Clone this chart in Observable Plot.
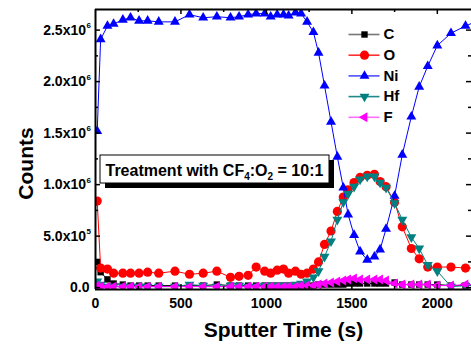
<!DOCTYPE html>
<html><head><meta charset="utf-8">
<script src="https://cdn.jsdelivr.net/npm/d3@7"></script>
<script src="https://cdn.jsdelivr.net/npm/@observablehq/plot@0.6"></script>
<style>html,body{margin:0;padding:0;background:#fff;overflow:hidden}</style>
</head><body><div id="chart"></div>
<script>
// ---- data ----
const time = [10,30,70,106,160,205,255,305,370,465,550,630,710,790,840,893,940,990,1025,1063,1100,1130,1170,1203,1238,1275,1305,1340,1378,1415,1450,1478,1513,1548,1590,1632,1665,1700,1750,1795,1848,1894,1944,2000,2080,2165,2250];
const C  = [0.25e6,0.15e6,0.08e6,0.04e6,0.03e6,0.02e6,0.02e6,0.02e6,0.02e6, 0.02e6,0.02e6,0.02e6,0.03e6,0.02e6, 0.02e6,0.02e6,0.02e6,0.02e6,0.02e6, 0.02e6,0.02e6,0.02e6,0.02e6,0.02e6, 0.02e6,0.02e6,0.03e6,0.03e6,0.03e6, 0.03e6,0.03e6,0.04e6,0.04e6,0.04e6, 0.04e6,0.04e6,0.04e6,0.04e6,0.05e6, 0.03e6,0.03e6,0.03e6,0.03e6,0.03e6, 0.02e6,0.02e6,0.02e6];
const O  = [0.84e6,0.19e6,0.18e6,0.14e6,0.14e6,0.14e6,0.14e6,0.15e6,0.14e6, 0.16e6,0.13e6,0.14e6,0.16e6,0.10e6, 0.11e6,0.12e6,0.20e6,0.16e6,0.14e6, 0.17e6,0.18e6,0.14e6,0.16e6,0.13e6, 0.14e6,0.18e6,0.25e6,0.42e6,0.55e6, 0.74e6,0.88e6,0.95e6,1.02e6,1.07e6, 1.09e6,1.10e6,1.03e6,0.98e6,0.83e6, 0.59e6,0.38e6,0.28e6,0.20e6,0.20e6, 0.20e6,0.19e6,0.19e6];
const Ni = [1.52e6,2.41e6,2.54e6,2.56e6,2.60e6,2.62e6,2.59e6,2.59e6,2.58e6, 2.58e6,2.65e6,2.62e6,2.63e6,2.62e6, 2.63e6,2.65e6,2.66e6,2.66e6,2.63e6, 2.65e6,2.65e6,2.64e6,2.67e6,2.66e6, 2.58e6,2.48e6,2.28e6,1.96e6,1.61e6, 1.27e6,0.97e6,0.71e6,0.51e6,0.35e6, 0.27e6,0.30e6,0.37e6,0.57e6,0.89e6, 1.29e6,1.66e6,1.95e6,2.15e6,2.35e6, 2.47e6,2.54e6,2.60e6];
const Hf = [0.06e6,0.03e6,0.01e6,0.01e6,0.01e6,0.01e6,0.01e6,0.01e6,0.01e6, 0.01e6,0.03e6,0.02e6,0.01e6,0.02e6, 0.02e6,0.01e6,0.01e6,0.02e6,0.02e6, 0.02e6,0.02e6,0.02e6,0.03e6,0.04e6, 0.06e6,0.10e6,0.16e6,0.30e6,0.45e6, 0.66e6,0.83e6,0.91e6,0.98e6,1.05e6, 1.08e6,1.08e6,1.02e6,0.97e6,0.82e6, 0.66e6,0.49e6,0.38e6,0.22e6,0.16e6, 0.01e6,0.02e6,0.02e6];
const F  = [0.02e6,0.01e6,0.01e6,0.01e6,0.01e6,0.01e6,0.01e6,0.01e6,0.01e6, 0.01e6,0.01e6,0.01e6,0.01e6,0.01e6, 0.01e6,0.01e6,0.01e6,0.01e6,0.01e6, 0.01e6,0.01e6,0.01e6,0.01e6,0.02e6, 0.02e6,0.02e6,0.03e6,0.04e6,0.05e6, 0.06e6,0.07e6,0.08e6,0.09e6,0.08e6, 0.08e6,0.08e6,0.08e6,0.07e6,0.04e6, 0.03e6,0.03e6,0.03e6,0.03e6,0.02e6, 0.02e6,0.03e6,0.03e6];
const seriesNames = ["C","O","Ni","Hf","F"];
const seriesColors = ["#000000","#ff0000","#0000ff","#008080","#ff00ff"];
const legendLineColors = ["#777777","#ff3030","#5050ff","#208a8a","#ff70ff"];
const yTicks = [0, 5e5, 1e6, 1.5e6, 2e6, 2.5e6];
const yTickBase = ["0.0","5.0x10","1.0x10","1.5x10","2.0x10","2.5x10"];
const yTickExp = ["","5","6","6","6","6"];
const yMinor = [2.5e5, 7.5e5, 1.25e6, 1.75e6, 2.25e6];
const xTicks = [0, 500, 1000, 1500, 2000];
const xMinor = [250, 750, 1250, 1750];
const xTitle = "Sputter Time (s)";
const yTitle = "Counts";
const annotation = "Treatment with CF4:O2 = 10:1";

// ---- layout ----
const width = 471, height = 349;
const mL = 95, mR = 0, mT = 9, mB = 60;
const xDomain = [0, 2200], yDomain = [-18000, 2700000];
const W = width - mL - mR, H = height - mT - mB;
const px2x = px => xDomain[0] + (px - mL) / W * (xDomain[1] - xDomain[0]);
const py2y = py => yDomain[0] + (mT + H - py) / H * (yDomain[1] - yDomain[0]);

const s3 = Math.sqrt(3);
const triDown = {draw(ctx, size) { const y = -Math.sqrt(size / (s3 * 3)); ctx.moveTo(0, -y * 2); ctx.lineTo(-s3 * y, y); ctx.lineTo(s3 * y, y); ctx.closePath(); }};
const triLeft = {draw(ctx, size) { const y = -Math.sqrt(size / (s3 * 3)); ctx.moveTo(y * 2, 0); ctx.lineTo(-y, -s3 * y); ctx.lineTo(-y, s3 * y); ctx.closePath(); }};
const symbols = ["square", "circle", "triangle", triDown, triLeft];
const radii = [3.6, 4.6, 3.7, 3.7, 3.7];

const rows = time.map((t, i) => ({t, C: C[i], O: O[i], Ni: Ni[i], Hf: Hf[i], F: F[i]}));

const font = {fontFamily: "Liberation Sans, Arial, Helvetica, sans-serif", fontWeight: "bold"};
const marks = [];

seriesNames.forEach((name, i) => {
  marks.push(Plot.line(rows, {x: "t", y: name, stroke: seriesColors[i], strokeWidth: 1, clip: true}));
  marks.push(Plot.dot(rows, {x: "t", y: name, symbol: symbols[i], r: radii[i], fill: seriesColors[i], stroke: "none", clip: true}));
});

// annotation box with shadow
const bx1 = px2x(100), bx2 = px2x(329), by1 = py2y(183), by2 = py2y(155);
marks.push(Plot.rect([0], {x1: () => bx1, x2: () => bx2, y1: () => by1, y2: () => by2, fill: "black", dx: 5, dy: 5}));
marks.push(Plot.rect([0], {x1: () => bx1, x2: () => bx2, y1: () => by1, y2: () => by2, fill: "white", stroke: "black", strokeWidth: 1}));
marks.push(Plot.text([annotation], {x: () => px2x(105), y: () => py2y(175), text: d => d, textAnchor: "start", lineAnchor: "bottom", fontSize: 16, fill: "black", ...font}));

// legend
seriesNames.forEach((name, i) => {
  const ly = py2y(34 + i * 20.7);
  marks.push(Plot.link([0], {x1: () => px2x(348), x2: () => px2x(379), y1: () => ly, y2: () => ly, stroke: legendLineColors[i], strokeWidth: 1.6}));
  marks.push(Plot.dot([0], {x: () => px2x(364), y: () => ly, symbol: symbols[i], r: radii[i], fill: seriesColors[i], stroke: "none"}));
  marks.push(Plot.text([name], {x: () => px2x(383), y: () => ly, text: d => d, textAnchor: "start", lineAnchor: "middle", fontSize: 15, fill: "black", ...font}));
});

// frame lines
marks.push(Plot.ruleX([xDomain[0]], {stroke: "black", strokeWidth: 2}));
marks.push(Plot.ruleY([yDomain[0]], {stroke: "black", strokeWidth: 2}));
marks.push(Plot.ruleY([yDomain[1]], {stroke: "black", strokeWidth: 2}));

// inward ticks
marks.push(Plot.tickY(yTicks, {y: d => d, insetRight: W - 5, stroke: "black", strokeWidth: 1.5}));
marks.push(Plot.tickY(yMinor, {y: d => d, insetRight: W - 3, stroke: "black", strokeWidth: 1.5}));
marks.push(Plot.tickY(yTicks, {y: d => d, insetLeft: W - 5, stroke: "black", strokeWidth: 1.5}));
marks.push(Plot.tickY(yMinor, {y: d => d, insetLeft: W - 3, stroke: "black", strokeWidth: 1.5}));
marks.push(Plot.tickX(xTicks.slice(1), {x: d => d, insetBottom: H - 5, stroke: "black", strokeWidth: 1.5}));
marks.push(Plot.tickX(xMinor, {x: d => d, insetBottom: H - 3, stroke: "black", strokeWidth: 1.5}));
marks.push(Plot.tickX(xTicks.slice(1), {x: d => d, insetTop: H - 5, stroke: "black", strokeWidth: 1.5}));
marks.push(Plot.tickX(xMinor, {x: d => d, insetTop: H - 3, stroke: "black", strokeWidth: 1.5}));

// y tick labels (mantissa + superscript exponent)
const yIdx = yTicks.map((v, i) => i);
marks.push(Plot.text(yIdx.filter(i => yTickExp[i] === ""), {y: i => yTicks[i], text: i => yTickBase[i], frameAnchor: "left", textAnchor: "end", lineAnchor: "middle", dx: -6, fontSize: 14, fill: "black", ...font}));
marks.push(Plot.text(yIdx.filter(i => yTickExp[i] !== ""), {y: i => yTicks[i], text: i => yTickBase[i], frameAnchor: "left", textAnchor: "end", lineAnchor: "middle", dx: -9.5, fontSize: 14, fill: "black", ...font}));
marks.push(Plot.text(yIdx.filter(i => yTickExp[i] !== ""), {y: i => yTicks[i], text: i => yTickExp[i], frameAnchor: "left", textAnchor: "start", lineAnchor: "middle", dx: -9, dy: -4.5, fontSize: 8, fill: "black", ...font}));

// x tick labels
marks.push(Plot.text(xTicks, {x: d => d, text: d => String(d), frameAnchor: "bottom", lineAnchor: "middle", dy: 14, fontSize: 14, fill: "black", ...font}));

// axis titles
marks.push(Plot.text([xTitle], {text: d => d, frameAnchor: "bottom", textAnchor: "middle", lineAnchor: "bottom", dy: 47, fontSize: 21, fill: "black", ...font}));
marks.push(Plot.text([yTitle], {text: d => d, frameAnchor: "left", textAnchor: "middle", rotate: -90, lineAnchor: "bottom", dx: -63, dy: 14, fontSize: 21, fill: "black", ...font}));

const chart = Plot.plot({
  width, height,
  marginLeft: mL, marginRight: mR, marginTop: mT, marginBottom: mB,
  x: {domain: xDomain, axis: null},
  y: {domain: yDomain, axis: null},
  style: {background: "white", fontFamily: font.fontFamily, overflow: "visible"},
  marks
});

// subscripts in the annotation
chart.querySelectorAll("text").forEach(t => {
  if (t.textContent === annotation) {
    const parts = [["Treatment with CF", 0, null], ["4", 4, 10], [":O", -4, null], ["2", 4, 10], [" = 10:1", -4, null]];
    while (t.firstChild) t.removeChild(t.firstChild);
    parts.forEach(([s, dy, fs]) => {
      const ts = document.createElementNS("http://www.w3.org/2000/svg", "tspan");
      ts.textContent = s;
      if (dy) ts.setAttribute("dy", dy);
      if (fs) ts.setAttribute("font-size", fs);
      t.appendChild(ts);
    });
  }
});

document.getElementById("chart").appendChild(chart);
</script>
</body></html>
